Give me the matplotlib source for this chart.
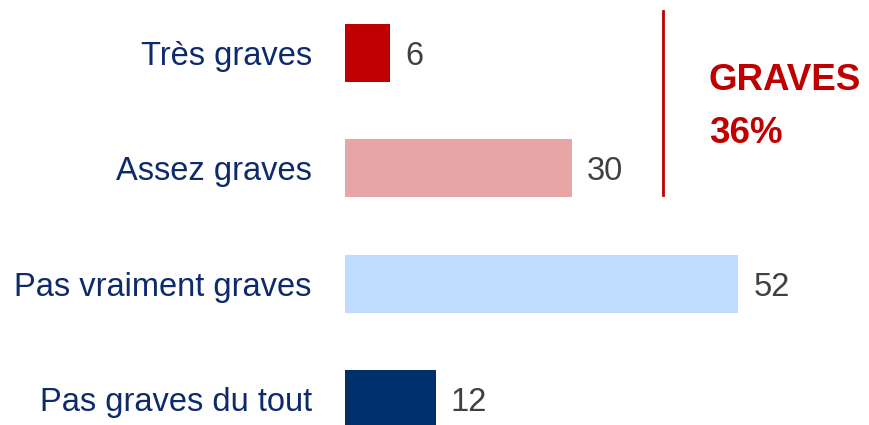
import matplotlib

matplotlib.use("Agg")
import matplotlib.pyplot as plt  # noqa: E402
from matplotlib.lines import Line2D  # noqa: E402

# données
categories = ["Très graves", "Assez graves", "Pas vraiment graves", "Pas graves du tout"]
values = [6, 30, 52, 12]
bar_colors = ["#C00000", "#E8A5A5", "#BFDBFD", "#00306B"]
summary_label = "GRAVES"
summary_value = "36%"

W, H = 869, 425
plt.rcParams["font.family"] = ["Liberation Sans", "DejaVu Sans"]

fig = plt.figure(figsize=(W / 100, H / 100), dpi=100)
ax = fig.add_axes([345 / W, 0, 524 / W, 1])

y = list(range(len(categories)))
ax.barh(y, values, height=0.5, color=bar_colors)
ax.set_xlim(0, 524 / 7.56)
ax.set_ylim(3 + 26 / 115.5, -53 / 115.5)

ax.set_yticks(y)
ax.set_yticklabels(categories, fontsize=23.5, color="#0D2A6B")
ax.tick_params(axis="y", length=0, pad=24)
ax.set_xticks([])
for s in ax.spines.values():
    s.set_visible(False)

# valeurs à droite des barres
for yi, v in zip(y, values):
    ax.annotate(str(v), (v, yi), xytext=(11, -2.5), textcoords="offset points",
                va="center", ha="left", fontsize=23.5, color="#404040")

# trait vertical + total "graves"
fig.add_artist(Line2D([662.5 / W, 662.5 / W], [1 - 11 / H, 1 - 195 / H],
                      color="#C00000", lw=2, transform=fig.transFigure))
fig.text(709 / W, 1 - 90 / H, summary_label, fontsize=26.5, fontweight="bold",
         color="#C00000", va="baseline", ha="left")
fig.text(709 / W, 1 - 143 / H, summary_value, fontsize=26.5, fontweight="bold",
         color="#C00000", va="baseline", ha="left")

fig.savefig("out.png", dpi=100)
plt.close(fig)
